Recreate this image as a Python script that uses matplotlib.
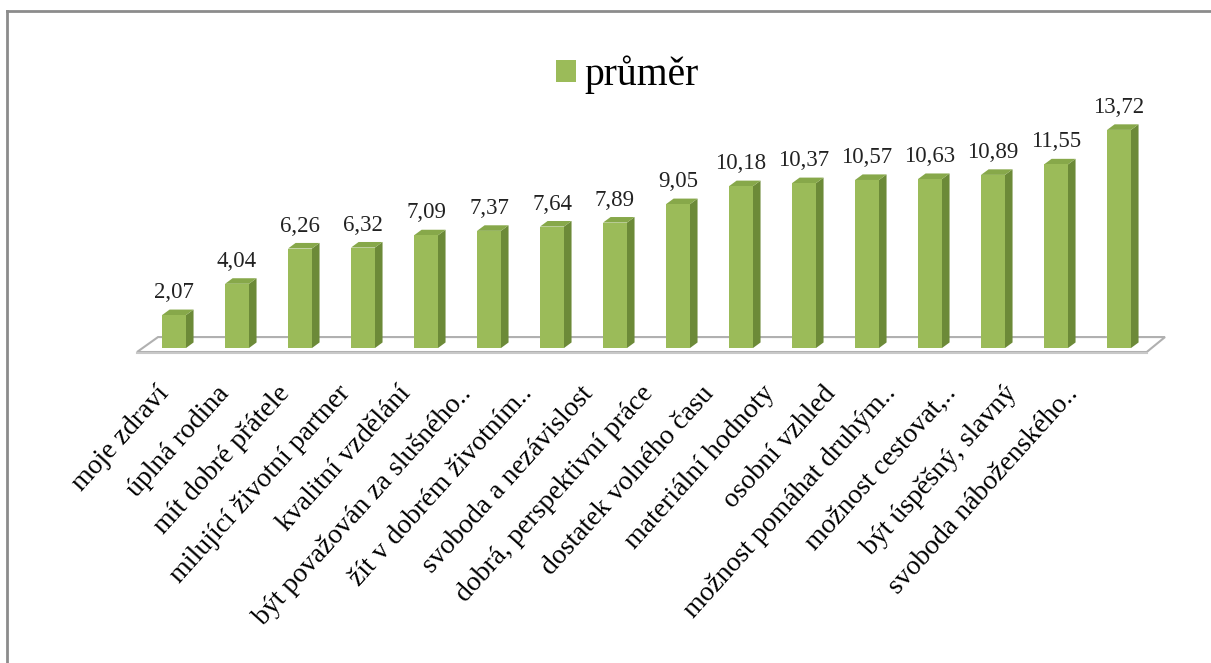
import matplotlib
matplotlib.use('Agg')
import matplotlib.pyplot as plt
from matplotlib.patches import Polygon, Rectangle, Patch
from matplotlib.lines import Line2D

# data
categories = ['moje zdraví', 'úplná rodina', 'mít dobré přátele', 'milující životní partner',
              'kvalitní vzdělání', 'být považován za slušného..', 'žít v dobrém životním..',
              'svoboda a nezávislost', 'dobrá, perspektivní práce', 'dostatek volného času',
              'materiální hodnoty', 'osobní vzhled', 'možnost pomáhat druhým..',
              'možnost cestovat,..', 'být úspěšný, slavný', 'svoboda náboženského..']
values = [2.07, 4.04, 6.26, 6.32, 7.09, 7.37, 7.64, 7.89, 9.05, 10.18,
          10.37, 10.57, 10.63, 10.89, 11.55, 13.72]
series_name = 'průměr'

plt.rcParams['font.family'] = ['Liberation Serif', 'DejaVu Serif']

FRONT = '#9bbb59'
SIDE = '#6c8a38'
TOP = '#87a84a'

fig = plt.figure(figsize=(12.11, 6.63), dpi=100)
ax = fig.add_axes([0, 0, 1, 1])
ax.set_xlim(-2.762, 16.46)
ax.set_ylim(-19.81, 21.89)
ax.axis('off')

n = len(values)
hw = 0.19      # half width of bar front
dx = 0.12      # depth offset in x
dy = 0.35      # depth offset in y

# floor
floor = Polygon([(-0.587, -0.25), (-0.254, 0.69), (n - 1 + 0.73, 0.69), (n - 1 + 0.44, -0.25)],
                closed=True, facecolor='white', edgecolor='#b0b0b0', linewidth=1.5, zorder=1)
ax.add_patch(floor)
ax.plot([-0.587, n - 1 + 0.44], [-0.33, -0.33], color='#c8c8c8', lw=1.5, zorder=1)

for i, v in enumerate(values):
    ax.add_patch(Polygon([(i + hw, 0), (i + hw + dx, dy), (i + hw + dx, v + dy), (i + hw, v)],
                         closed=True, facecolor=SIDE, edgecolor='none', zorder=2))
    ax.add_patch(Polygon([(i - hw, v), (i + hw, v), (i + hw + dx, v + dy), (i - hw + dx, v + dy)],
                         closed=True, facecolor=TOP, edgecolor='none', zorder=2))
    ax.add_patch(Rectangle((i - hw, 0), 2 * hw, v, facecolor=FRONT, edgecolor='none', zorder=3))
    ax.text(i, v + dy + 0.4, f'{v:.2f}'.replace('.', ','), ha='center', va='bottom',
            fontsize=16.5, color='#222222')

# category labels (spaced a bit tighter than the bars, like the 3D floor edge)
for i, c in enumerate(categories):
    ax.text(0.0 + 0.962 * i, -2.08, c, rotation=48, ha='right', va='top',
            fontsize=20, color='black')

# legend
fig.legend(handles=[Patch(facecolor=FRONT, edgecolor='none')], labels=[series_name],
           loc='center', bbox_to_anchor=(0.518, 0.887), frameon=False, fontsize=28.5,
           handlelength=0.5, handleheight=0.5, handletextpad=0.2)

# chart border (top and left visible)
fig.add_artist(Line2D([6.5 / 1211, 1.0], [1 - 10.5 / 663] * 2, color='#8c8c8c', lw=2))
fig.add_artist(Line2D([6.5 / 1211] * 2, [0.0, 1 - 10.5 / 663], color='#8c8c8c', lw=2))

fig.savefig('out.png', dpi=100)
